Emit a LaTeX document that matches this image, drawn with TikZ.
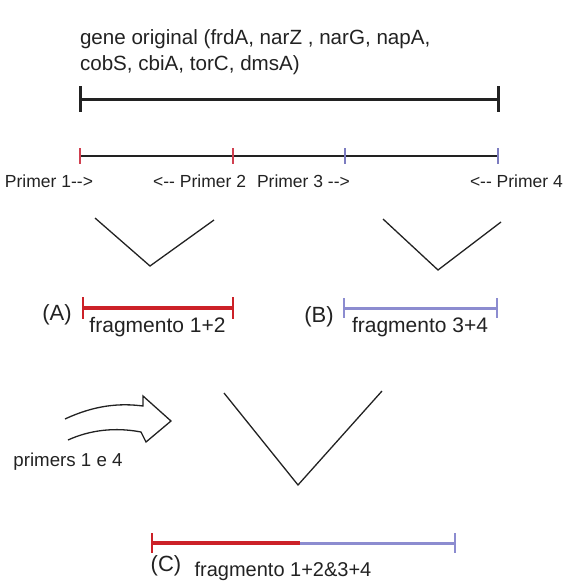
\documentclass[tikz,border=0pt]{standalone}
\usepackage{fontspec}
\setmainfont{Liberation Sans}
\usetikzlibrary{calc, positioning}
\definecolor{fragred}{HTML}{CC2128}
\definecolor{fragblue}{HTML}{8C8CD0}
\definecolor{tickred}{HTML}{D04050}
\definecolor{tickblue}{HTML}{7C7CC0}
\definecolor{inkgray}{HTML}{222222}

\tikzset{
  lbl/.style={font=\fontsize{17.5}{19}\selectfont, text=inkgray, inner sep=0pt},
  fraglbl/.style={lbl, font=\fontsize{21}{23}\selectfont},
  vline/.style={draw=inkgray, line width=1.3pt, line join=miter}
}

\begin{document}
\begin{tikzpicture}[x=1pt, y=-1pt, every node/.style={outer sep=0pt}]
\useasboundingbox (0,0) rectangle (580,581);

\def\xL{80}
\def\xR{498}
\def\xP{233}
\def\xQ{345}

% Title
\node[lbl, font=\fontsize{20.6}{25.5}\selectfont, anchor=north west, align=left]
  (title) at (\xL,30) {gene original (frdA, narZ , narG, napA,\\cobS, cbiA, torC, dmsA)};

% Original gene
\coordinate (g1) at (\xL,99);
\coordinate (g2) at (\xR,99);
\draw[inkgray, line width=3pt] (g1) -- (g2);
\foreach \p in {g1,g2}{
  \draw[inkgray, line width=3pt] ($(\p)+(0,-13)$) -- ($(\p)+(0,13)$);
}

% Primer positions
\coordinate (p1) at (\xL,156);
\coordinate (p2) at (\xP,156);
\coordinate (p3) at (\xQ,156);
\coordinate (p4) at (\xR,156);
\draw[inkgray, line width=2.2pt] (p1) -- (p4);
\draw[tickred, line width=1.5pt] ($(p1)+(0,-8)$) -- ($(p1)+(0,8)$);
\draw[tickred, line width=1.5pt] ($(p2)+(0,-8)$) -- ($(p2)+(0,8)$);
\draw[tickblue, line width=1.5pt] ($(p3)+(0,-8)$) -- ($(p3)+(0,8)$);
\draw[tickblue, line width=1.5pt] ($(p4)+(0,-8)$) -- ($(p4)+(0,8)$);

\node[lbl, anchor=west] (pr1) at (5,181) {Primer 1-{}->};
\node[lbl, anchor=east] (pr2) at (246,181) {<-{}- Primer 2};
\node[lbl, anchor=west] (pr3) at (257,181) {Primer 3 -{}->};
\node[lbl, anchor=west] (pr4) at (470,181) {<-{}- Primer 4};

% First PCR
\draw[vline] (95,218) -- (150,266) -- (214,220);
\draw[vline] (383,219) -- (438,270) -- (501,222);

% Fragment A
\coordinate (a1) at (83,308);
\coordinate (a2) at (233,308);
\draw[fragred, line width=3.5pt] (a1) -- (a2);
\draw[fragred, line width=2.5pt] ($(a1)+(0,-11)$) -- ($(a1)+(0,11)$);
\draw[fragred, line width=2.5pt] ($(a2)+(0,-11)$) -- ($(a2)+(0,11)$);
\node[lbl, font=\fontsize{22}{24}\selectfont] (labA) at (57,315) {(A)};
\node[fraglbl] (fragA) at ({(85+230)/2},327) {fragmento 1+2};

% Fragment B
\coordinate (b1) at (344,308);
\coordinate (b2) at (497,308);
\draw[fragblue, line width=3pt] (b1) -- (b2);
\draw[fragblue, line width=2.2pt] ($(b1)+(0,-10)$) -- ($(b1)+(0,10)$);
\draw[fragblue, line width=2.2pt] ($(b2)+(0,-10)$) -- ($(b2)+(0,10)$);
\node[lbl, font=\fontsize{22}{24}\selectfont] (labB) at (319,317) {(B)};
\node[fraglbl] (fragB) at ({(352+488)/2},327) {fragmento 3+4};

% Second PCR
\draw[inkgray, line width=1.3pt]
  (65,419) .. controls (95,405) and (120,403) .. (143,406) -- (143,396)
  -- (171,421) -- (146,442) -- (141,432)
  .. controls (115,427) and (90,430) .. (68,440);
\node[lbl, font=\fontsize{18.7}{20}\selectfont] (prim) at (68,462) {primers 1 e 4};
\draw[vline] (224,393) -- (298,485) -- (382,391);

% Fragment C
\coordinate (c1) at (152,543);
\coordinate (c2) at (300,543);
\coordinate (c3) at (455,543);
\draw[fragred, line width=3.5pt] (c1) -- (c2);
\draw[fragblue, line width=3pt] (c2) -- (c3);
\draw[fragred, line width=2.5pt] ($(c1)+(0,-10)$) -- ($(c1)+(0,10)$);
\draw[fragblue, line width=2.2pt] ($(c3)+(0,-10)$) -- ($(c3)+(0,10)$);
\node[lbl, font=\fontsize{22}{24}\selectfont] (labC) at (166,566) {(C)};
\node[fraglbl, font=\fontsize{20}{22}\selectfont] (fragC) at (283,571) {fragmento 1+2\&3+4};

\end{tikzpicture}
\end{document}
